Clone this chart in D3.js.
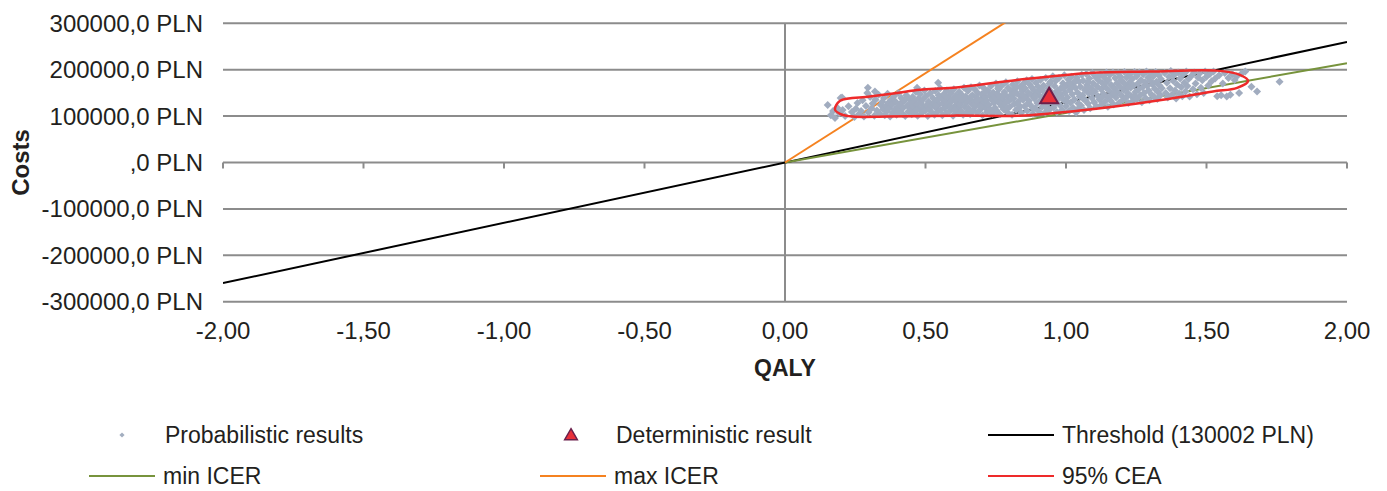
<!DOCTYPE html>
<html>
<head>
<meta charset="utf-8">
<script src="https://cdn.jsdelivr.net/npm/d3@7"></script>
<style>
  body { margin: 0; background: #fff; }
  text { font-family: "Liberation Sans", Arial, sans-serif; fill: #231f20; }
</style>
</head>
<body>
<svg id="chart" width="1387" height="491"></svg>
<script>
// axis ticks
const xTicks = [-2, -1.5, -1, -0.5, 0, 0.5, 1, 1.5, 2];
const yTicks = [-300000, -200000, -100000, 0, 100000, 200000, 300000];

// ICER lines (PLN per QALY)
const thresholdSlope = 130002;
const minIcerSlope = 107000;
const maxIcerSlope = 385000;

// deterministic result [QALY, cost]
const deterministic = [0.94, 141000];

// 95% CEA outline [QALY, cost in thousand PLN]
const ceaOutline = [
  [0.178,114],[0.196,133],[0.302,142],[0.399,150],[0.480,157],[0.598,161],
  [0.826,178],[1.085,193],[1.30,196],[1.537,198],[1.619,189],[1.648,176],
  [1.609,161],[1.523,153],[1.345,135],[1.167,120],[1.05,112],[0.836,101],
  [0.598,101],[0.363,99],[0.242,99],[0.196,105]
];

// probabilistic results [QALY, cost in thousand PLN]
const probabilistic = [
  [0.152,124],[0.163,102],[0.171,111],[0.178,96],[0.186,118],[0.193,106],[0.198,139],[0.205,113],[0.214,100],[0.226,121],[0.238,109],[0.247,98],
  [0.203,140],[0.295,161],[0.32,153],[0.47,161],[0.545,172],
  [0.252,116],[0.258,128],[0.263,104],[0.271,111],[0.276,134],[0.281,99],[0.288,122],[0.293,150],[0.297,108],[0.303,141],[0.308,117],[0.312,127],[0.318,101],[0.322,135],[0.327,112],[0.333,146],[0.337,105],[0.341,124],[0.346,131],[0.349,115],
  [0.352,139],[0.355,102],[0.358,121],[0.362,110],[0.365,148],[0.368,129],[0.371,117],[0.374,99],[0.378,136],[0.381,125],[0.384,108],[0.388,143],[0.391,114],[0.394,131],[0.397,103],[0.401,120],[0.404,150],[0.407,112],[0.411,127],[0.414,139],[0.418,105],[0.421,118],[0.425,133],[0.428,100],[0.432,145],[0.435,123],[0.439,110],[0.442,137],[0.446,116],[0.449,128],
  [0.451,104],[0.454,141],[0.457,120],[0.46,132],[0.463,111],[0.466,152],[0.469,125],[0.472,101],[0.475,138],[0.478,116],[0.481,147],[0.484,128],[0.487,107],[0.49,135],[0.493,119],[0.496,155],[0.499,112],[0.502,143],[0.505,124],[0.508,100],[0.511,131],[0.514,115],[0.517,149],[0.52,122],[0.523,108],[0.526,139],[0.529,127],[0.532,103],[0.535,154],[0.538,117],[0.541,134],[0.544,110],[0.547,145],[0.549,126],[0.536,121],[0.468,113],
  [0.552,160],[0.554,113],[0.557,138],[0.56,102],[0.562,126],[0.565,147],[0.568,118],[0.571,133],[0.573,107],[0.576,155],[0.579,123],[0.582,141],[0.584,110],[0.587,129],[0.59,150],[0.593,115],[0.596,136],[0.598,101],[0.601,158],[0.604,121],[0.607,144],[0.609,131],[0.612,106],[0.615,139],[0.618,118],[0.62,152],[0.623,125],[0.626,112],[0.629,146],[0.632,134],[0.634,103],[0.637,161],[0.64,120],[0.643,142],[0.645,128],[0.648,109],[0.571,144],[0.603,113],[0.627,137],[0.589,121],
  [0.651,154],[0.653,117],[0.656,136],[0.659,104],[0.662,162],[0.664,127],[0.667,145],[0.67,112],[0.673,131],[0.675,158],[0.678,121],[0.681,140],[0.684,107],[0.686,150],[0.689,126],[0.692,166],[0.695,114],[0.697,137],[0.7,147],[0.703,102],[0.706,129],[0.708,160],[0.711,119],[0.714,141],[0.717,133],[0.719,109],[0.722,155],[0.725,124],[0.728,144],[0.73,115],[0.733,165],[0.736,135],[0.739,105],[0.741,151],[0.744,128],[0.747,118],[0.749,139],[0.661,141],[0.683,133],[0.697,121],[0.712,152],[0.726,111],[0.738,147],[0.671,123],
  [0.751,170],[0.753,112],[0.756,148],[0.759,131],[0.761,158],[0.764,104],[0.767,140],[0.77,122],[0.772,166],[0.775,136],[0.778,115],[0.781,152],[0.783,127],[0.786,173],[0.789,143],[0.792,108],[0.794,161],[0.797,133],[0.8,120],[0.803,155],[0.805,146],[0.808,103],[0.811,168],[0.814,138],[0.816,126],[0.819,159],[0.822,113],[0.825,149],[0.827,175],[0.83,131],[0.833,118],[0.836,163],[0.838,142],[0.841,107],[0.844,154],[0.847,135],[0.849,170],[0.762,129],[0.776,145],[0.791,117],[0.806,137],[0.818,150],[0.832,124],[0.845,146],[0.758,160],[0.823,164],
  [0.852,121],[0.854,160],[0.857,141],[0.86,177],[0.862,111],[0.865,151],[0.868,133],[0.871,168],[0.873,124],[0.876,146],[0.879,180],[0.882,105],[0.884,157],[0.887,138],[0.89,117],[0.893,172],[0.895,149],[0.898,128],[0.901,163],[0.904,110],[0.906,144],[0.909,178],[0.912,135],[0.915,120],[0.917,155],[0.92,166],[0.923,131],[0.926,108],[0.928,182],[0.931,148],[0.934,126],[0.937,160],[0.939,139],[0.942,114],[0.945,174],[0.948,152],[0.866,128],[0.878,162],[0.891,143],[0.903,154],[0.916,141],[0.929,118],[0.941,170],[0.883,116],[0.911,158],[0.935,145],
  [0.951,130],[0.953,186],[0.956,119],[0.959,165],[0.961,147],[0.964,176],[0.967,109],[0.97,155],[0.972,138],[0.975,182],[0.978,124],[0.981,160],[0.983,144],[0.986,113],[0.989,171],[0.992,134],[0.994,188],[0.997,151],[1.0,121],[1.003,166],[1.005,140],[1.008,179],[1.011,111],[1.014,157],[1.016,129],[1.019,185],[1.022,147],[1.025,118],[1.027,170],[1.03,136],[1.033,161],[1.036,108],[1.038,183],[1.041,151],[1.044,127],[1.047,174],[1.049,142],[0.962,127],[0.977,150],[0.99,160],[1.004,131],[1.018,164],[1.031,175],[1.043,116],[0.969,142],[1.012,172],
  [1.051,163],[1.053,123],[1.056,189],[1.059,145],[1.061,176],[1.064,113],[1.067,156],[1.07,134],[1.072,191],[1.075,167],[1.078,127],[1.081,149],[1.083,181],[1.086,117],[1.089,160],[1.092,139],[1.094,193],[1.097,171],[1.1,130],[1.103,153],[1.105,185],[1.108,121],[1.111,164],[1.114,143],[1.116,177],[1.119,136],[1.122,190],[1.125,158],[1.127,125],[1.13,171],[1.133,148],[1.136,183],[1.138,131],[1.141,162],[1.144,194],[1.147,141],[1.149,120],[1.062,137],[1.079,174],[1.095,150],[1.11,182],[1.126,140],[1.142,172],[1.071,159],
  [1.151,178],[1.153,155],[1.156,189],[1.159,133],[1.161,167],[1.164,146],[1.167,194],[1.17,125],[1.172,160],[1.175,182],[1.178,140],[1.181,171],[1.183,152],[1.186,193],[1.189,129],[1.192,163],[1.194,185],[1.197,145],[1.2,175],[1.203,135],[1.205,157],[1.208,195],[1.211,168],[1.214,140],[1.216,183],[1.219,150],[1.222,128],[1.225,172],[1.227,190],[1.23,161],[1.233,143],[1.236,180],[1.238,133],[1.241,166],[1.244,195],[1.247,152],[1.169,150],[1.196,178],[1.221,162],[1.243,144],
  [1.251,186],[1.253,137],[1.256,170],[1.259,158],[1.261,194],[1.264,145],[1.267,178],[1.27,130],[1.272,162],[1.275,190],[1.278,150],[1.281,173],[1.283,139],[1.286,196],[1.289,165],[1.292,183],[1.294,155],[1.297,134],[1.3,176],[1.303,192],[1.305,146],[1.308,168],[1.311,186],[1.314,141],[1.316,159],[1.319,195],[1.322,174],[1.325,137],[1.327,152],[1.33,188],[1.333,166],[1.336,145],[1.338,180],[1.341,160],
  [1.351,193],[1.355,150],[1.359,172],[1.362,140],[1.366,185],[1.37,160],[1.373,197],[1.377,146],[1.381,176],[1.384,188],[1.388,155],[1.392,138],[1.395,168],[1.399,194],[1.403,148],[1.406,181],[1.41,162],[1.414,143],[1.417,190],[1.421,172],[1.425,153],[1.428,196],[1.432,165],[1.436,180],[1.44,142],[1.445,186],
  [1.452,158],[1.456,194],[1.461,170],[1.466,147],[1.47,183],[1.475,192],[1.48,161],[1.485,177],[1.49,150],[1.495,196],[1.5,185],[1.506,166],[1.512,191],[1.518,175],[1.525,196],[1.531,181],[1.538,143],[1.545,188],
  [1.552,145],[1.558,170],[1.565,193],[1.572,142],[1.578,182],[1.585,146],[1.592,190],[1.6,178],[1.608,186],[1.616,150],[1.625,192],[1.638,196],[1.66,163],[1.68,153],[1.76,174]
];

// legend entries
const legendLabels = ["Probabilistic results", "Deterministic result", "Threshold (130002 PLN)", "min ICER", "max ICER", "95% CEA"];
const legendKinds = ["diamond", "triangle", "line", "line", "line", "line"];
const legendColors = ["#a3aec0", "#e8303a", "#000000", "#77933c", "#f58220", "#ee2a2a"];

const svg = d3.select("#chart");
const plotLeft = 223, plotRight = 1347, plotTop = 23.3, plotBottom = 301.7;

const x = d3.scaleLinear().domain([-2, 2]).range([plotLeft, plotRight]);
const y = d3.scaleLinear().domain([-300000, 300000]).range([plotBottom, plotTop]);
const yk = v => y(v * 1000);

const fmtX = d => d.toFixed(2).replace(".", ",");
const fmtY = d => (d === 0 ? "" : d) + ",0 PLN";

svg.append("defs").append("clipPath").attr("id", "plotclip")
  .append("rect").attr("x", plotLeft).attr("y", plotTop)
  .attr("width", plotRight - plotLeft).attr("height", plotBottom - plotTop);

// gridlines
svg.append("g").selectAll("line").data(yTicks).join("line")
  .attr("x1", plotLeft).attr("x2", plotRight)
  .attr("y1", d => y(d)).attr("y2", d => y(d))
  .attr("stroke", "#8c8c8c").attr("stroke-width", 2);

// vertical axis at 0
svg.append("line").attr("x1", x(0)).attr("x2", x(0)).attr("y1", plotTop).attr("y2", plotBottom)
  .attr("stroke", "#8c8c8c").attr("stroke-width", 2);

// horizontal axis ticks at y = 0
svg.append("g").selectAll("line").data(xTicks).join("line")
  .attr("x1", d => x(d)).attr("x2", d => x(d))
  .attr("y1", y(0)).attr("y2", y(0) + 6)
  .attr("stroke", "#8c8c8c").attr("stroke-width", 2);

// tick labels
svg.append("g").selectAll("text").data(yTicks).join("text")
  .attr("x", 203).attr("y", d => y(d)).attr("dy", "0.35em")
  .attr("text-anchor", "end").attr("font-size", 24)
  .text(fmtY);

svg.append("g").selectAll("text").data(xTicks).join("text")
  .attr("x", d => x(d)).attr("y", 331).attr("dy", "0.35em")
  .attr("text-anchor", "middle").attr("font-size", 24)
  .text(fmtX);

// axis titles
svg.append("text").attr("x", x(0)).attr("y", 368).attr("dy", "0.35em")
  .attr("text-anchor", "middle").attr("font-size", 23).attr("font-weight", "bold")
  .text("QALY");
svg.append("text").attr("transform", `translate(21,${y(0)}) rotate(-90)`).attr("dy", "0.35em")
  .attr("text-anchor", "middle").attr("font-size", 24).attr("font-weight", "bold")
  .text("Costs");

const plot = svg.append("g").attr("clip-path", "url(#plotclip)");

// ICER lines
plot.append("line")
  .attr("x1", x(-2)).attr("y1", y(-2 * thresholdSlope))
  .attr("x2", x(2)).attr("y2", y(2 * thresholdSlope))
  .attr("stroke", "#000").attr("stroke-width", 2);
plot.append("line")
  .attr("x1", x(0)).attr("y1", y(0))
  .attr("x2", x(2)).attr("y2", y(2 * minIcerSlope))
  .attr("stroke", "#77933c").attr("stroke-width", 2);
plot.append("line")
  .attr("x1", x(0)).attr("y1", y(0))
  .attr("x2", x(2)).attr("y2", y(2 * maxIcerSlope))
  .attr("stroke", "#f58220").attr("stroke-width", 2);

// probabilistic points
const diamond = "M0,-4L4,0L0,4L-4,0Z";
plot.append("g").selectAll("path").data(probabilistic).join("path")
  .attr("transform", d => `translate(${x(d[0])},${yk(d[1])})`)
  .attr("d", diamond).attr("fill", "#a1acbf");

// 95% CEA
plot.append("path")
  .datum(ceaOutline)
  .attr("d", d3.line().x(d => x(d[0])).y(d => yk(d[1])).curve(d3.curveCatmullRomClosed.alpha(0.5)))
  .attr("fill", "none").attr("stroke", "#ee2a2a").attr("stroke-width", 2.5);

// deterministic triangle
const tri = d3.symbol(d3.symbolTriangle, 140);
svg.append("path")
  .attr("transform", `translate(${x(deterministic[0])},${y(deterministic[1]) + 1})`)
  .attr("d", tri()).attr("fill", "#e8303a").attr("stroke", "#6b1f4a").attr("stroke-width", 2);

// legend: line start and text start per column
const lineX = [89, 540, 988];
const textX = [163, 614, 1062];
const rowY = [435, 476];
legendLabels.forEach((label, i) => {
  const col = i % 3, cy = rowY[Math.floor(i / 3)];
  const g = svg.append("g");
  if (legendKinds[i] === "line") {
    g.append("line").attr("x1", lineX[col]).attr("x2", lineX[col] + 66).attr("y1", cy).attr("y2", cy)
      .attr("stroke", legendColors[i]).attr("stroke-width", 2);
  } else if (legendKinds[i] === "diamond") {
    g.append("path").attr("transform", `translate(${textX[col] - 41},${cy})`)
      .attr("d", "M0,-2.6L2.6,0L0,2.6L-2.6,0Z").attr("fill", legendColors[i]);
  } else {
    g.append("path").attr("transform", `translate(${textX[col] - 43},${cy + 1})`)
      .attr("d", d3.symbol(d3.symbolTriangle, 70)()).attr("fill", legendColors[i])
      .attr("stroke", "#6b1f4a").attr("stroke-width", 1.5);
  }
  g.append("text").attr("x", textX[col] + (legendKinds[i] === "line" ? 0 : 2)).attr("y", cy).attr("dy", "0.35em")
    .attr("font-size", 23).text(label);
});
</script>
</body>
</html>
